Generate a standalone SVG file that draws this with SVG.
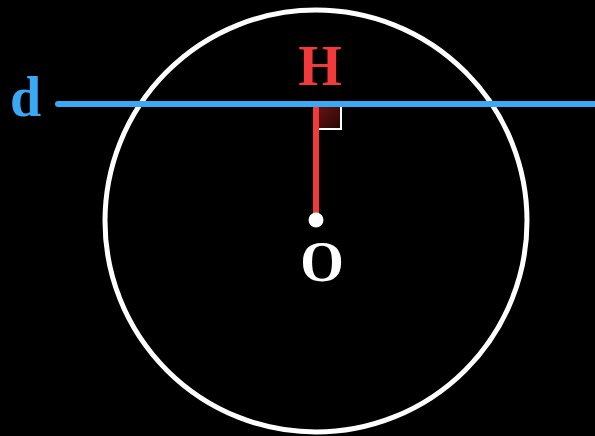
<svg xmlns="http://www.w3.org/2000/svg" width="595" height="436" viewBox="0 0 595 436">
<style>
.lbl{font-family:"Liberation Serif","Times New Roman",serif;font-weight:bold;font-size:56px}
</style>
<defs>
<linearGradient id="rg" x1="0" y1="0" x2="1" y2="1">
<stop offset="0" stop-color="#6a1414"/>
<stop offset="1" stop-color="#2a0606"/>
</linearGradient>
</defs>
<rect width="595" height="436" fill="#000"/>
<g id="circle">
<circle cx="316" cy="221" r="211" fill="none" stroke="#fff" stroke-width="5"/>
</g>
<g id="right-angle">
<rect x="316" y="104" width="25" height="25" fill="url(#rg)"/>
<polyline points="341,104 341,129 316,129" fill="none" stroke="#fff" stroke-width="2"/>
</g>
<g id="connectors">
<line id="OH" x1="316" y1="104" x2="316" y2="220" stroke="#f23a3a" stroke-width="6"/>
<line id="d-line" x1="58" y1="104" x2="600" y2="104" stroke="#3aa8f4" stroke-width="6" stroke-linecap="round"/>
</g>
<g id="O">
<circle cx="316" cy="220" r="7.5" fill="#fff"/>
<text class="lbl" x="322" y="281" text-anchor="middle" fill="#fff">O</text>
</g>
<g id="H">
<text class="lbl" x="320" y="85" text-anchor="middle" fill="#f23a3a">H</text>
</g>
<g id="d">
<text class="lbl" x="10" y="116" fill="#3aa8f4">d</text>
</g>
</svg>
